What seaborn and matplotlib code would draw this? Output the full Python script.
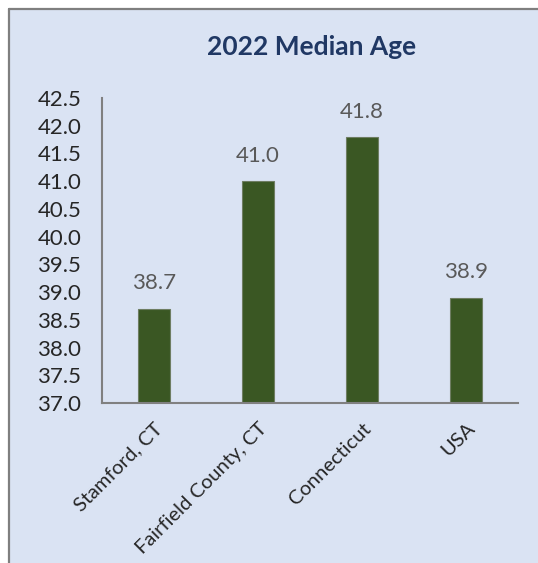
import numpy as np
import pandas as pd
import matplotlib
matplotlib.use("Agg")
import matplotlib.pyplot as plt
from matplotlib.patches import Rectangle
from matplotlib.lines import Line2D
import seaborn as sns

# Data
places = ["Stamford, CT", "Fairfield County, CT", "Connecticut", "USA"]
median_age = [38.7, 41.0, 41.8, 38.9]
y_ticks = np.arange(37.0, 42.51, 0.5)

df = pd.DataFrame({"place": places, "age": median_age})

sns.set_theme(style="white")
plt.rcParams["font.family"] = ["Lato", "DejaVu Sans"]

bg = "#dae3f3"
W, H = 538, 563
fig = plt.figure(figsize=(W / 100, H / 100), dpi=100)
fig.patch.set_facecolor(bg)

# white margin above and left of the chart frame, plus the gray frame lines
fig.patches.append(Rectangle((0, 1 - 8 / H), 1, 8 / H, transform=fig.transFigure,
                             facecolor="white", edgecolor="none", zorder=-5))
fig.patches.append(Rectangle((0, 0), 8 / W, 1, transform=fig.transFigure,
                             facecolor="white", edgecolor="none", zorder=-5))
fig.lines.append(Line2D([9 / W, 1], [1 - 9 / H, 1 - 9 / H], transform=fig.transFigure,
                        color="#7f7f7f", lw=1.6, zorder=-4))
fig.lines.append(Line2D([9 / W, 9 / W], [0, 1 - 9 / H], transform=fig.transFigure,
                        color="#7f7f7f", lw=1.6, zorder=-4))

ax = fig.add_axes([102 / W, 160 / H, 416 / W, 305 / H])
ax.set_zorder(2)
ax.patch.set_alpha(0)

sns.barplot(data=df, x="place", y="age", color="#3a5723", width=0.31,
            edgecolor="#6e7d62", linewidth=0.8, saturation=1, ax=ax)

ax.set_ylim(37.0, 42.5)
ax.set_xlim(-0.5, 3.5)
ax.set_yticks(y_ticks)
ax.set_yticklabels([f"{v:.1f}" for v in y_ticks], fontsize=16, color="#262626")
ax.set_xticks(range(len(places)))
ax.set_xticklabels(places, rotation=45, ha="right", rotation_mode="anchor",
                   fontsize=14.5, color="#262626")
ax.tick_params(axis="both", length=0)
ax.tick_params(axis="y", pad=15)
ax.tick_params(axis="x", pad=12)
ax.set_xlabel("")
ax.set_ylabel("")

for s in ["top", "right"]:
    ax.spines[s].set_visible(False)
for s in ["left", "bottom"]:
    ax.spines[s].set_color("#808080")
    ax.spines[s].set_linewidth(1.5)

for i, v in enumerate(median_age):
    ax.annotate(f"{v:.1f}", (i, v), xytext=(0, 11), textcoords="offset points",
                ha="center", va="bottom", fontsize=16, color="#595959")

fig.text(312 / W, 1 - 47 / H, "2022 Median Age", ha="center", va="center",
         fontsize=19, fontweight="bold", color="#203864")

fig.savefig("out.png", dpi=100, facecolor=bg)
